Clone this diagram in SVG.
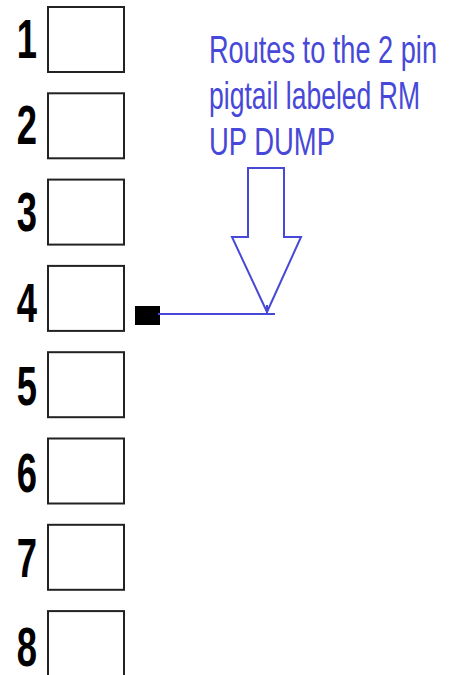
<svg xmlns="http://www.w3.org/2000/svg" width="455" height="675" viewBox="0 0 455 675">
<style>
.box{fill:#fff;stroke:#222;stroke-width:2}
.num{font-family:"Liberation Sans",Arial,sans-serif;font-weight:bold;font-size:56px;fill:#000;text-anchor:end}
.lbl{font-family:"Liberation Sans",Arial,sans-serif;font-size:38px;fill:#4848d8}
.blue{fill:none;stroke:#4848d8;stroke-width:2}
</style>
<rect width="455" height="675" fill="#fff"/>
<g id="pin1"><rect class="box" x="48" y="7" width="76" height="65"/><text class="num" transform="translate(37,58) scale(0.65,1)">1</text></g>
<g id="pin2"><rect class="box" x="48" y="93.3" width="76" height="65"/><text class="num" transform="translate(37,144.3) scale(0.65,1)">2</text></g>
<g id="pin3"><rect class="box" x="48" y="179.6" width="76" height="65"/><text class="num" transform="translate(37,230.6) scale(0.65,1)">3</text></g>
<g id="pin4"><rect class="box" x="48" y="265.9" width="76" height="65"/><text class="num" transform="translate(37,322) scale(0.65,1)">4</text></g>
<g id="pin5"><rect class="box" x="48" y="352.2" width="76" height="65"/><text class="num" transform="translate(37,405) scale(0.65,1)">5</text></g>
<g id="pin6"><rect class="box" x="48" y="438.5" width="76" height="65"/><text class="num" transform="translate(37,492) scale(0.65,1)">6</text></g>
<g id="pin7"><rect class="box" x="48" y="524.8" width="76" height="65"/><text class="num" transform="translate(37,577) scale(0.65,1)">7</text></g>
<g id="pin8"><rect class="box" x="48" y="611.1" width="76" height="65"/><text class="num" transform="translate(37,666) scale(0.65,1)">8</text></g>
<g id="label">
<text class="lbl" x="209" y="63" textLength="228" lengthAdjust="spacingAndGlyphs">Routes to the 2 pin</text>
<text class="lbl" x="209" y="109" textLength="211" lengthAdjust="spacingAndGlyphs">pigtail labeled RM</text>
<text class="lbl" x="209" y="155" textLength="126" lengthAdjust="spacingAndGlyphs">UP DUMP</text>
</g>
<g id="arrow"><path class="blue" d="M248,168 H284 V237 H301 L267,312 L232,237 H248 Z"/></g>
<g id="connectors">
<rect id="plug" x="135" y="306" width="25" height="19" fill="#000"/>
<path class="blue" d="M158,314 H275 M267,305 V314"/>
</g>
</svg>
